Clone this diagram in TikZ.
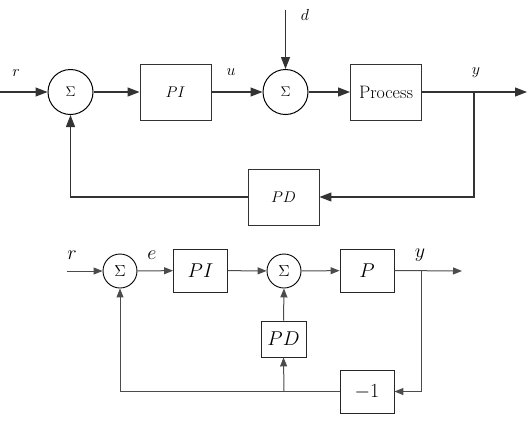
\RequirePackage{fix-cm}
\documentclass[tikz,border=0pt]{standalone}
\usetikzlibrary{arrows.meta}
\begin{document}
\begin{tikzpicture}[x=1pt,y=-1pt,
  lnA/.style={draw=black!80, line width=1.1pt},
  lnB/.style={draw=black!70, line width=1pt},
  arA/.style={lnA, -{Triangle[length=12pt,width=9pt]}},
  arB/.style={lnB, -{Triangle[length=9pt,width=7pt]}},
  sumA/.style={circle, draw=black, line width=1pt, minimum size=45pt, inner sep=0pt, font=\fontsize{14}{16}\selectfont},
  boxA/.style={rectangle, draw=black!80, line width=0.9pt, minimum width=71pt, minimum height=56pt, inner sep=0pt, font=\fontsize{15.5}{18}\selectfont},
  sumB/.style={circle, draw=black, line width=0.9pt, minimum size=34pt, inner sep=0pt, font=\fontsize{16}{18}\selectfont},
  boxB/.style={rectangle, draw=black!85, line width=0.9pt, minimum width=54pt, minimum height=43pt, inner sep=0pt, font=\fontsize{20}{24}\selectfont},
  lblA/.style={inner sep=0pt, font=\fontsize{16}{18}\selectfont},
  lblB/.style={inner sep=0pt, font=\fontsize{20}{24}\selectfont}]
\useasboundingbox (0,0) rectangle (530,424);
% ---------- top diagram ----------
\node[sumA] (s1) at (70.5,92) {$\Sigma$};
\node[boxA] (pi1) at (175.5,92) {$PI$};
\node[sumA] (s2) at (285.5,92) {$\Sigma$};
\node[boxA, font=\fontsize{18}{20}\selectfont] (proc) at (386,92) {Process};
\node[boxA] (pd1) at (283.5,197) {$PD$};
\coordinate (in1) at (0,92);
\coordinate (out1) at (527,92);
\coordinate (br1) at (474,92);
\coordinate (dd) at (285.5,10);
\coordinate (c1) at (474,197);
\coordinate (c2) at (70.5,197);
\draw[arA] (in1) -- (s1);
\draw[arA] (s1) -- (pi1);
\draw[arA] (pi1) -- (s2);
\draw[arA] (dd) -- (s2);
\draw[arA] (s2) -- (proc);
\draw[arA] (proc.east) -- (out1);
\draw[arA] (br1) -- (c1) -- (pd1.east);
\draw[arA] (pd1.west) -- (c2) -- (s1.south);
\node[lblA] (lr1) at (16,73) {$r$};
\node[lblA] (lu1) at (231,72) {$u$};
\node[lblA] (ld1) at (305,15) {$d$};
\node[lblA] (ly1) at (476,73) {$y$};
% ---------- bottom diagram ----------
\node[sumB] (s3) at (120,271) {$\Sigma$};
\node[boxB] (pi2) at (200.5,270.5) {$PI$};
\node[sumB] (s4) at (284,271) {$\Sigma$};
\node[boxB] (pp) at (367,270.5) {$P$};
\node[boxB, minimum width=45pt, minimum height=36pt] (pd2) at (283.5,339) {$PD$};
\node[boxB] (neg) at (367,391.5) {$-1$};
\coordinate (in2) at (66.5,271);
\coordinate (out2) at (462,271);
\coordinate (br2) at (421,271);
\coordinate (c3) at (421,391.5);
\coordinate (c4) at (120,391.5);
\coordinate (j1) at (284,391.5);
\draw[arB] (in2) -- (s3);
\draw[arB] (s3) -- (pi2);
\draw[arB] (pi2) -- (s4);
\draw[arB] (s4) -- (pp);
\draw[arB] (pp.east) -- (out2);
\draw[arB] (br2) -- (c3) -- (neg.east);
\draw[arB] (neg.west) -- (c4) -- (s3.south);
\draw[arB] (j1) -- (pd2.south);
\draw[arB] (pd2.north) -- (s4.south);
\node[lblB] (lr2) at (72,255) {$r$};
\node[lblB] (le2) at (152,255) {$e$};
\node[lblB] (ly2) at (420,255) {$y$};
\end{tikzpicture}
\end{document}
